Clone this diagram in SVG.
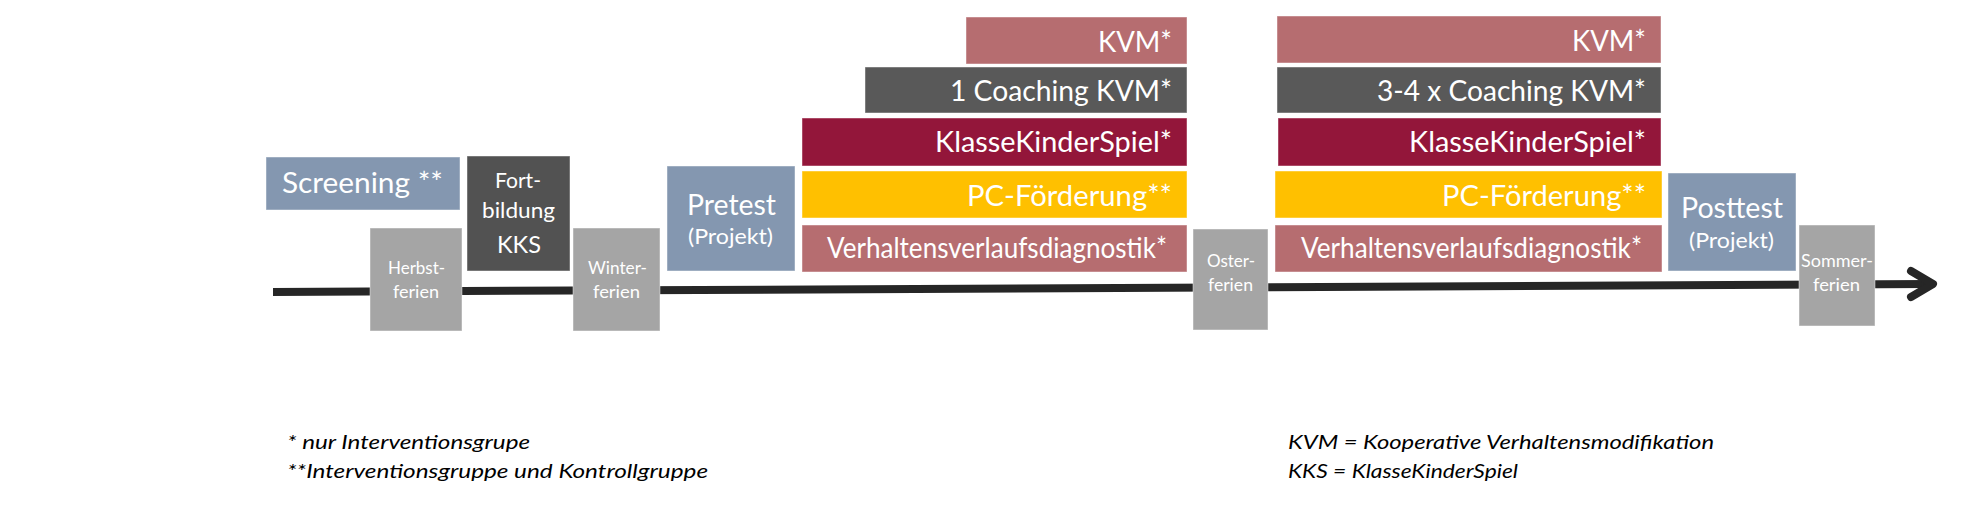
<svg xmlns="http://www.w3.org/2000/svg" width="1974" height="523" viewBox="0 0 1974 523">
<style>
  .box { stroke: #ffffff; stroke-opacity: 0.45; stroke-width: 1; }
  .blue { fill: #8497B0; }
  .dark { fill: #595959; }
  .dark2 { fill: #525252; }
  .gray { fill: #A5A5A5; }
  .rose { fill: #B66D70; }
  .crim { fill: #93163A; }
  .yel { fill: #FFC000; }
  text { font-family: Lato, "Open Sans", "Liberation Sans", sans-serif; fill: #ffffff; }
  .big { font-size: 28px; }
  .mid { font-size: 22px; }
  .sm { font-size: 17px; }
  .note { font-size: 20px; font-style: italic; fill: #000000; }
  .line { stroke: #262626; stroke-width: 8; fill: none; }
</style>
<rect width="1974" height="523" fill="#ffffff"/>

<g id="connectors">
  <line class="line" x1="273" y1="292" x2="1930" y2="284"/>
  <polyline class="line" points="1911,271 1933,284 1911,297" stroke-linecap="round" stroke-linejoin="round"/>
</g>

<g id="screening">
  <rect class="box blue" x="266" y="157" width="194" height="53"/>
  <text class="big" x="282" y="193" textLength="161" lengthAdjust="spacingAndGlyphs">Screening **</text>
</g>
<g id="herbstferien">
  <rect class="box gray" x="370" y="228" width="92" height="103"/>
  <text class="sm" x="388" y="274" textLength="57" lengthAdjust="spacingAndGlyphs">Herbst-</text>
  <text class="sm" x="393" y="298" textLength="46" lengthAdjust="spacingAndGlyphs">ferien</text>
</g>
<g id="fortbildung">
  <rect class="box dark2" x="467" y="156" width="103" height="115"/>
  <text class="mid" x="495" y="188" textLength="46" lengthAdjust="spacingAndGlyphs">Fort-</text>
  <text class="mid" x="482" y="218" textLength="73" lengthAdjust="spacingAndGlyphs">bildung</text>
  <text style="font-size:23px" x="497" y="253" textLength="44" lengthAdjust="spacingAndGlyphs">KKS</text>
</g>
<g id="winterferien">
  <rect class="box gray" x="573" y="228" width="87" height="103"/>
  <text class="sm" x="588" y="274" textLength="59" lengthAdjust="spacingAndGlyphs">Winter-</text>
  <text class="sm" x="593" y="298" textLength="47" lengthAdjust="spacingAndGlyphs">ferien</text>
</g>
<g id="pretest">
  <rect class="box blue" x="667" y="166" width="128" height="105"/>
  <text class="big" x="687" y="215" textLength="89" lengthAdjust="spacingAndGlyphs">Pretest</text>
  <text class="mid" x="688" y="244" textLength="85" lengthAdjust="spacingAndGlyphs">(Projekt)</text>
</g>

<g id="kvm1">
  <rect class="box rose" x="966" y="17" width="221" height="47"/>
  <text class="big" x="1098" y="52" textLength="74" lengthAdjust="spacingAndGlyphs">KVM*</text>
</g>
<g id="coaching1">
  <rect class="box dark" x="865" y="67" width="322" height="46"/>
  <text class="big" x="950" y="101" textLength="222" lengthAdjust="spacingAndGlyphs">1 Coaching KVM*</text>
</g>
<g id="kks1">
  <rect class="box crim" x="802" y="118" width="385" height="48"/>
  <text class="big" x="935" y="152" textLength="237" lengthAdjust="spacingAndGlyphs">KlasseKinderSpiel*</text>
</g>
<g id="pc1">
  <rect class="box yel" x="802" y="171" width="385" height="47"/>
  <text class="big" x="967" y="206" textLength="205" lengthAdjust="spacingAndGlyphs">PC-Förderung**</text>
</g>
<g id="verhalten1">
  <rect class="box rose" x="802" y="225" width="385" height="47"/>
  <text class="big" x="827" y="258" textLength="340" lengthAdjust="spacingAndGlyphs">Verhaltensverlaufsdiagnostik*</text>
</g>

<g id="osterferien">
  <rect class="box gray" x="1193" y="229" width="75" height="101"/>
  <text class="sm" x="1207" y="267" textLength="48" lengthAdjust="spacingAndGlyphs">Oster-</text>
  <text class="sm" x="1208" y="291" textLength="45" lengthAdjust="spacingAndGlyphs">ferien</text>
</g>

<g id="kvm2">
  <rect class="box rose" x="1277" y="16" width="384" height="47"/>
  <text class="big" x="1572" y="51" textLength="74" lengthAdjust="spacingAndGlyphs">KVM*</text>
</g>
<g id="coaching2">
  <rect class="box dark" x="1277" y="67" width="384" height="46"/>
  <text class="big" x="1377" y="101" textLength="269" lengthAdjust="spacingAndGlyphs">3-4 x Coaching KVM*</text>
</g>
<g id="kks2">
  <rect class="box crim" x="1278" y="118" width="383" height="48"/>
  <text class="big" x="1409" y="152" textLength="237" lengthAdjust="spacingAndGlyphs">KlasseKinderSpiel*</text>
</g>
<g id="pc2">
  <rect class="box yel" x="1275" y="171" width="387" height="47"/>
  <text class="big" x="1442" y="206" textLength="204" lengthAdjust="spacingAndGlyphs">PC-Förderung**</text>
</g>
<g id="verhalten2">
  <rect class="box rose" x="1275" y="225" width="387" height="47"/>
  <text class="big" x="1301" y="258" textLength="341" lengthAdjust="spacingAndGlyphs">Verhaltensverlaufsdiagnostik*</text>
</g>

<g id="posttest">
  <rect class="box blue" x="1668" y="173" width="128" height="98"/>
  <text class="big" x="1681" y="218" textLength="102" lengthAdjust="spacingAndGlyphs">Posttest</text>
  <text class="mid" x="1689" y="248" textLength="85" lengthAdjust="spacingAndGlyphs">(Projekt)</text>
</g>
<g id="sommerferien">
  <rect class="box gray" x="1799" y="225" width="76" height="101"/>
  <text class="sm" x="1801" y="267" textLength="72" lengthAdjust="spacingAndGlyphs">Sommer-</text>
  <text class="sm" x="1813" y="291" textLength="47" lengthAdjust="spacingAndGlyphs">ferien</text>
</g>

<g id="legend-left">
  <text class="note" x="287" y="449" textLength="243" lengthAdjust="spacingAndGlyphs">* nur Interventionsgrupe</text>
  <text class="note" x="287" y="478" textLength="421" lengthAdjust="spacingAndGlyphs">**Interventionsgruppe und Kontrollgruppe</text>
</g>
<g id="legend-right">
  <text class="note" x="1288" y="449" textLength="426" lengthAdjust="spacingAndGlyphs">KVM = Kooperative Verhaltensmodifikation</text>
  <text class="note" x="1288" y="478" textLength="230" lengthAdjust="spacingAndGlyphs">KKS = KlasseKinderSpiel</text>
</g>
</svg>
